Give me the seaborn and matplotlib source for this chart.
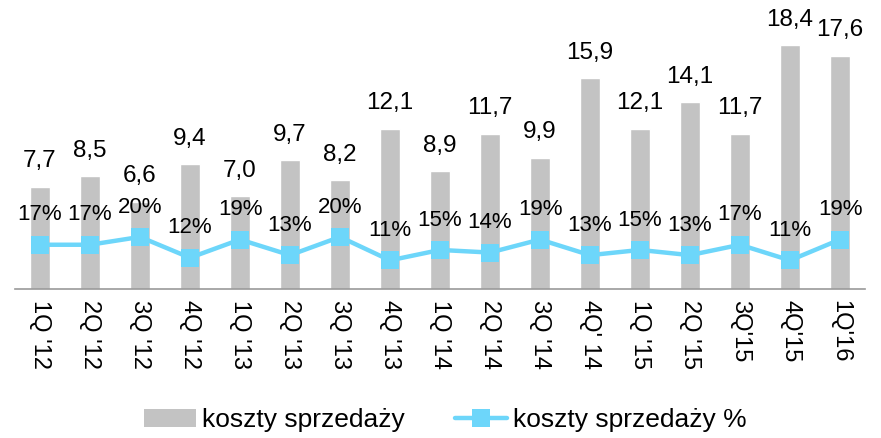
import numpy as np
import pandas as pd
import matplotlib
matplotlib.use('Agg')
import matplotlib.pyplot as plt
import seaborn as sns
from matplotlib.lines import Line2D
from matplotlib.patches import Patch

# data
quarters = ["1Q '12", "2Q '12", "3Q '12", "4Q '12", "1Q '13", "2Q '13", "3Q '13", "4Q '13",
            "1Q '14", "2Q '14", "3Q '14", "4Q' 14", "1Q '15", "2Q '15", "3Q'15", "4Q'15", "1Q'16"]
koszty = [7.7, 8.5, 6.6, 9.4, 7.0, 9.7, 8.2, 12.1, 8.9, 11.7, 9.9, 15.9, 12.1, 14.1, 11.7, 18.4, 17.6]
koszty_pct = [17, 17, 20, 12, 19, 13, 20, 11, 15, 14, 19, 13, 15, 13, 17, 11, 19]

bar_color = '#C3C3C3'
line_color = '#6DD6FA'

sns.set_style('white')
plt.rcParams['font.family'] = ['Liberation Sans', 'DejaVu Sans']
plt.rcParams['text.color'] = 'black'
plt.rcParams['xtick.color'] = 'black'

df = pd.DataFrame({'kw': quarters, 'koszty': koszty, 'pct': koszty_pct})
df['pos'] = np.arange(len(df))

fig = plt.figure(figsize=(8.81, 4.38), dpi=100)
ax = fig.add_axes([15 / 881, 149 / 438, 850 / 881, 289 / 438])

sns.barplot(data=df, x='kw', y='koszty', color=bar_color, width=0.4,
            saturation=1, ax=ax, zorder=1)
ax.set_xlim(-0.5, len(df) - 0.5)
ax.set_ylim(0, 21.8)

# wartosci nad slupkami
for i, v in enumerate(koszty):
    ax.annotate(f'{v:.1f}'.replace('.', ','), (i, v), xytext=(0, 14),
                textcoords='offset points', ha='center', va='baseline', fontsize=17.5)

ax2 = ax.twinx()
sns.lineplot(data=df, x='pos', y='pct', color=line_color, linewidth=3.2, marker='s',
             markersize=13, markeredgewidth=0, ax=ax2, zorder=3)
ax2.set_ylim(0, 111)
for i, p in enumerate(koszty_pct):
    ax2.annotate(f'{p}%', (i, p), xytext=(0, 17.5), textcoords='offset points',
                 ha='center', va='baseline', fontsize=16)

for a in (ax, ax2):
    for s in ['top', 'left', 'right']:
        a.spines[s].set_visible(False)
    a.set_ylabel('')
    a.set_xlabel('')
    a.set_yticks([])
ax2.spines['bottom'].set_visible(False)
ax.spines['bottom'].set_color('#999999')
ax.spines['bottom'].set_linewidth(1.2)

ax.set_xticks(np.arange(len(quarters)))
ax.set_xticklabels(quarters, rotation=270, fontsize=17)
ax.tick_params(axis='x', length=0, pad=8)

handles = [Patch(facecolor=bar_color, edgecolor='none'),
           Line2D([0], [0], color=line_color, linewidth=3.2, marker='s', markersize=13,
                  markeredgewidth=0)]
fig.legend(handles, ['koszty sprzedaży', 'koszty sprzedaży %'], loc='center',
           bbox_to_anchor=(0.505, 18 / 438), ncol=2, frameon=False, fontsize=19,
           handlelength=2.0, handleheight=0.7, handletextpad=0.2, columnspacing=1.9)

fig.savefig('out.png', dpi=100)
